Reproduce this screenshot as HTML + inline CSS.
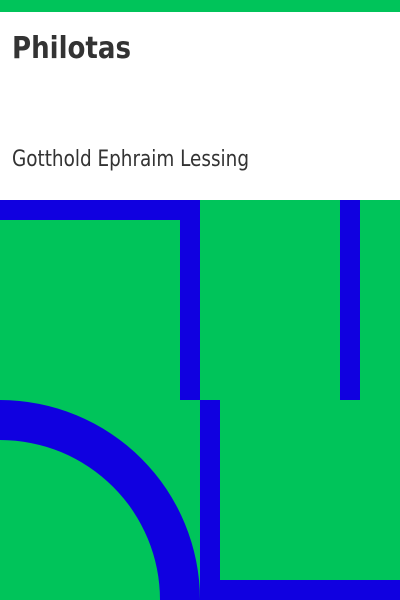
<!DOCTYPE html>
<html><head><meta charset="utf-8"><style>
html,body{margin:0;padding:0;width:400px;height:600px;overflow:hidden;background:#fff}
</style></head><body>
<svg width="400" height="600" viewBox="0 0 400 600" style="display:block">
<rect x="0" y="0" width="400" height="12" fill="#00c45a"/>
<rect x="0" y="12" width="400" height="188" fill="#fff"/>
<text x="12" y="58" font-family="DejaVu Sans Condensed, DejaVu Sans, sans-serif" font-weight="bold" font-size="30" fill="#333" textLength="119" lengthAdjust="spacingAndGlyphs">Philotas</text>
<text x="12" y="166" font-family="DejaVu Sans Condensed, DejaVu Sans, sans-serif" font-size="22" fill="#333" textLength="237" lengthAdjust="spacingAndGlyphs">Gotthold Ephraim Lessing</text>
<rect x="0" y="200" width="400" height="400" fill="#00c45a"/>
<g fill="#1000e0">
<rect x="0" y="200" width="200" height="20"/>
<rect x="180" y="200" width="20" height="200"/>
<rect x="340" y="200" width="20" height="200"/>
<rect x="200" y="400" width="20" height="200"/>
<rect x="200" y="580" width="200" height="20"/>
<path d="M0 400 A200 200 0 0 1 200 600 L160 600 A160 160 0 0 0 0 440 Z"/>
</g>
</svg>
</body></html>
